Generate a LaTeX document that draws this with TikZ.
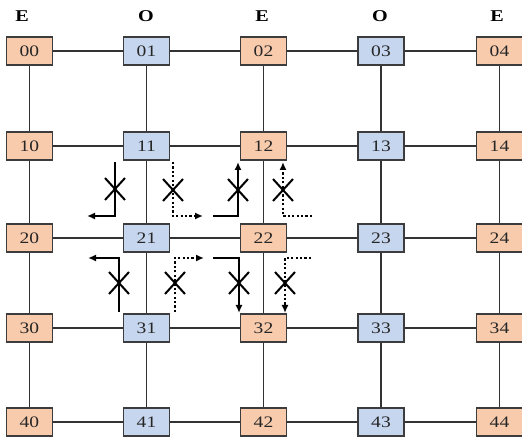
\documentclass[tikz,border=0pt]{standalone}
\usepackage{fontspec}
\setmainfont{Liberation Serif}
\newfontfamily\boxfont[FakeStretch=1.22]{Liberation Serif}
\usetikzlibrary{arrows.meta}
\definecolor{eorange}{RGB}{248,203,173}
\definecolor{oblue}{RGB}{198,214,238}
\definecolor{bordr}{RGB}{60,60,60}
\begin{document}
\begin{tikzpicture}[x=1pt,y=-1pt,
  box/.style={draw=bordr, line width=1.2pt, minimum width=46pt, minimum height=28pt, inner sep=0pt, text=black!85, font=\boxfont\fontsize{16}{18}\selectfont},
  ebox/.style={box, fill=eorange},
  obox/.style={box, fill=oblue},
  lbl/.style={font=\boxfont\fontsize{16.5}{18}\selectfont\bfseries},
  link/.style={line width=1.2pt, draw=black!80},
  turn/.style={line width=2.2pt, -{Latex[length=8pt,width=7pt]}},
  dturn/.style={turn, dash pattern=on 2.2pt off 2.2pt},
  cross/.style={line width=2pt}]
\useasboundingbox (0,0) rectangle (522,443);
\foreach \r/\y in {0/51,1/146,2/238,3/328,4/422}{
  \foreach \c/\x in {0/29.5,1/146.5,2/263.5,3/381,4/499.5}{
    \ifodd\c \def\st{obox}\else\def\st{ebox}\fi
    \node[\st] (b\r\c) at (\x,\y) {\r\c};
  }
}
\node[lbl] (l0) at (22,16) {E};
\node[lbl] (l1) at (146,16) {O};
\node[lbl] (l2) at (262,16) {E};
\node[lbl] (l3) at (380,16) {O};
\node[lbl] (l4) at (497,16) {E};
\foreach \r in {0,...,4}{
  \foreach \c/\n in {0/1,1/2,2/3,3/4}{
    \draw[link] (b\r\c) -- (b\r\n);
  }
}
\foreach \c in {0,...,4}{
  \foreach \r/\n in {0/1,1/2,2/3,3/4}{
    \draw[link] (b\r\c) -- (b\n\c);
  }
}
% turn arrows
\draw[turn] (115,162) -- (115,216) -- (87,216);
\draw[cross] (105,178) -- (125,200) (105,200) -- (125,178);
\draw[dturn] (173,162) -- (173,216) -- (203,216);
\draw[cross] (163,179) -- (183,201) (163,201) -- (183,179);
\draw[turn] (213,216) -- (238,216) -- (238,162);
\draw[cross] (228,179) -- (248,201) (228,201) -- (248,179);
\draw[dturn] (312,216) -- (283,216) -- (283,162);
\draw[cross] (273,179) -- (293,201) (273,201) -- (293,179);
\draw[turn] (119,312) -- (119,258) -- (88,258);
\draw[cross] (109,272) -- (129,294) (109,294) -- (129,272);
\draw[dturn] (175,312) -- (175,258) -- (204,258);
\draw[cross] (165,272) -- (185,294) (165,294) -- (185,272);
\draw[turn] (213,258) -- (239,258) -- (239,313);
\draw[cross] (229,272) -- (249,294) (229,294) -- (249,272);
\draw[dturn] (311,258) -- (285,258) -- (285,313);
\draw[cross] (275,272) -- (295,294) (275,294) -- (295,272);
\end{tikzpicture}
\end{document}
